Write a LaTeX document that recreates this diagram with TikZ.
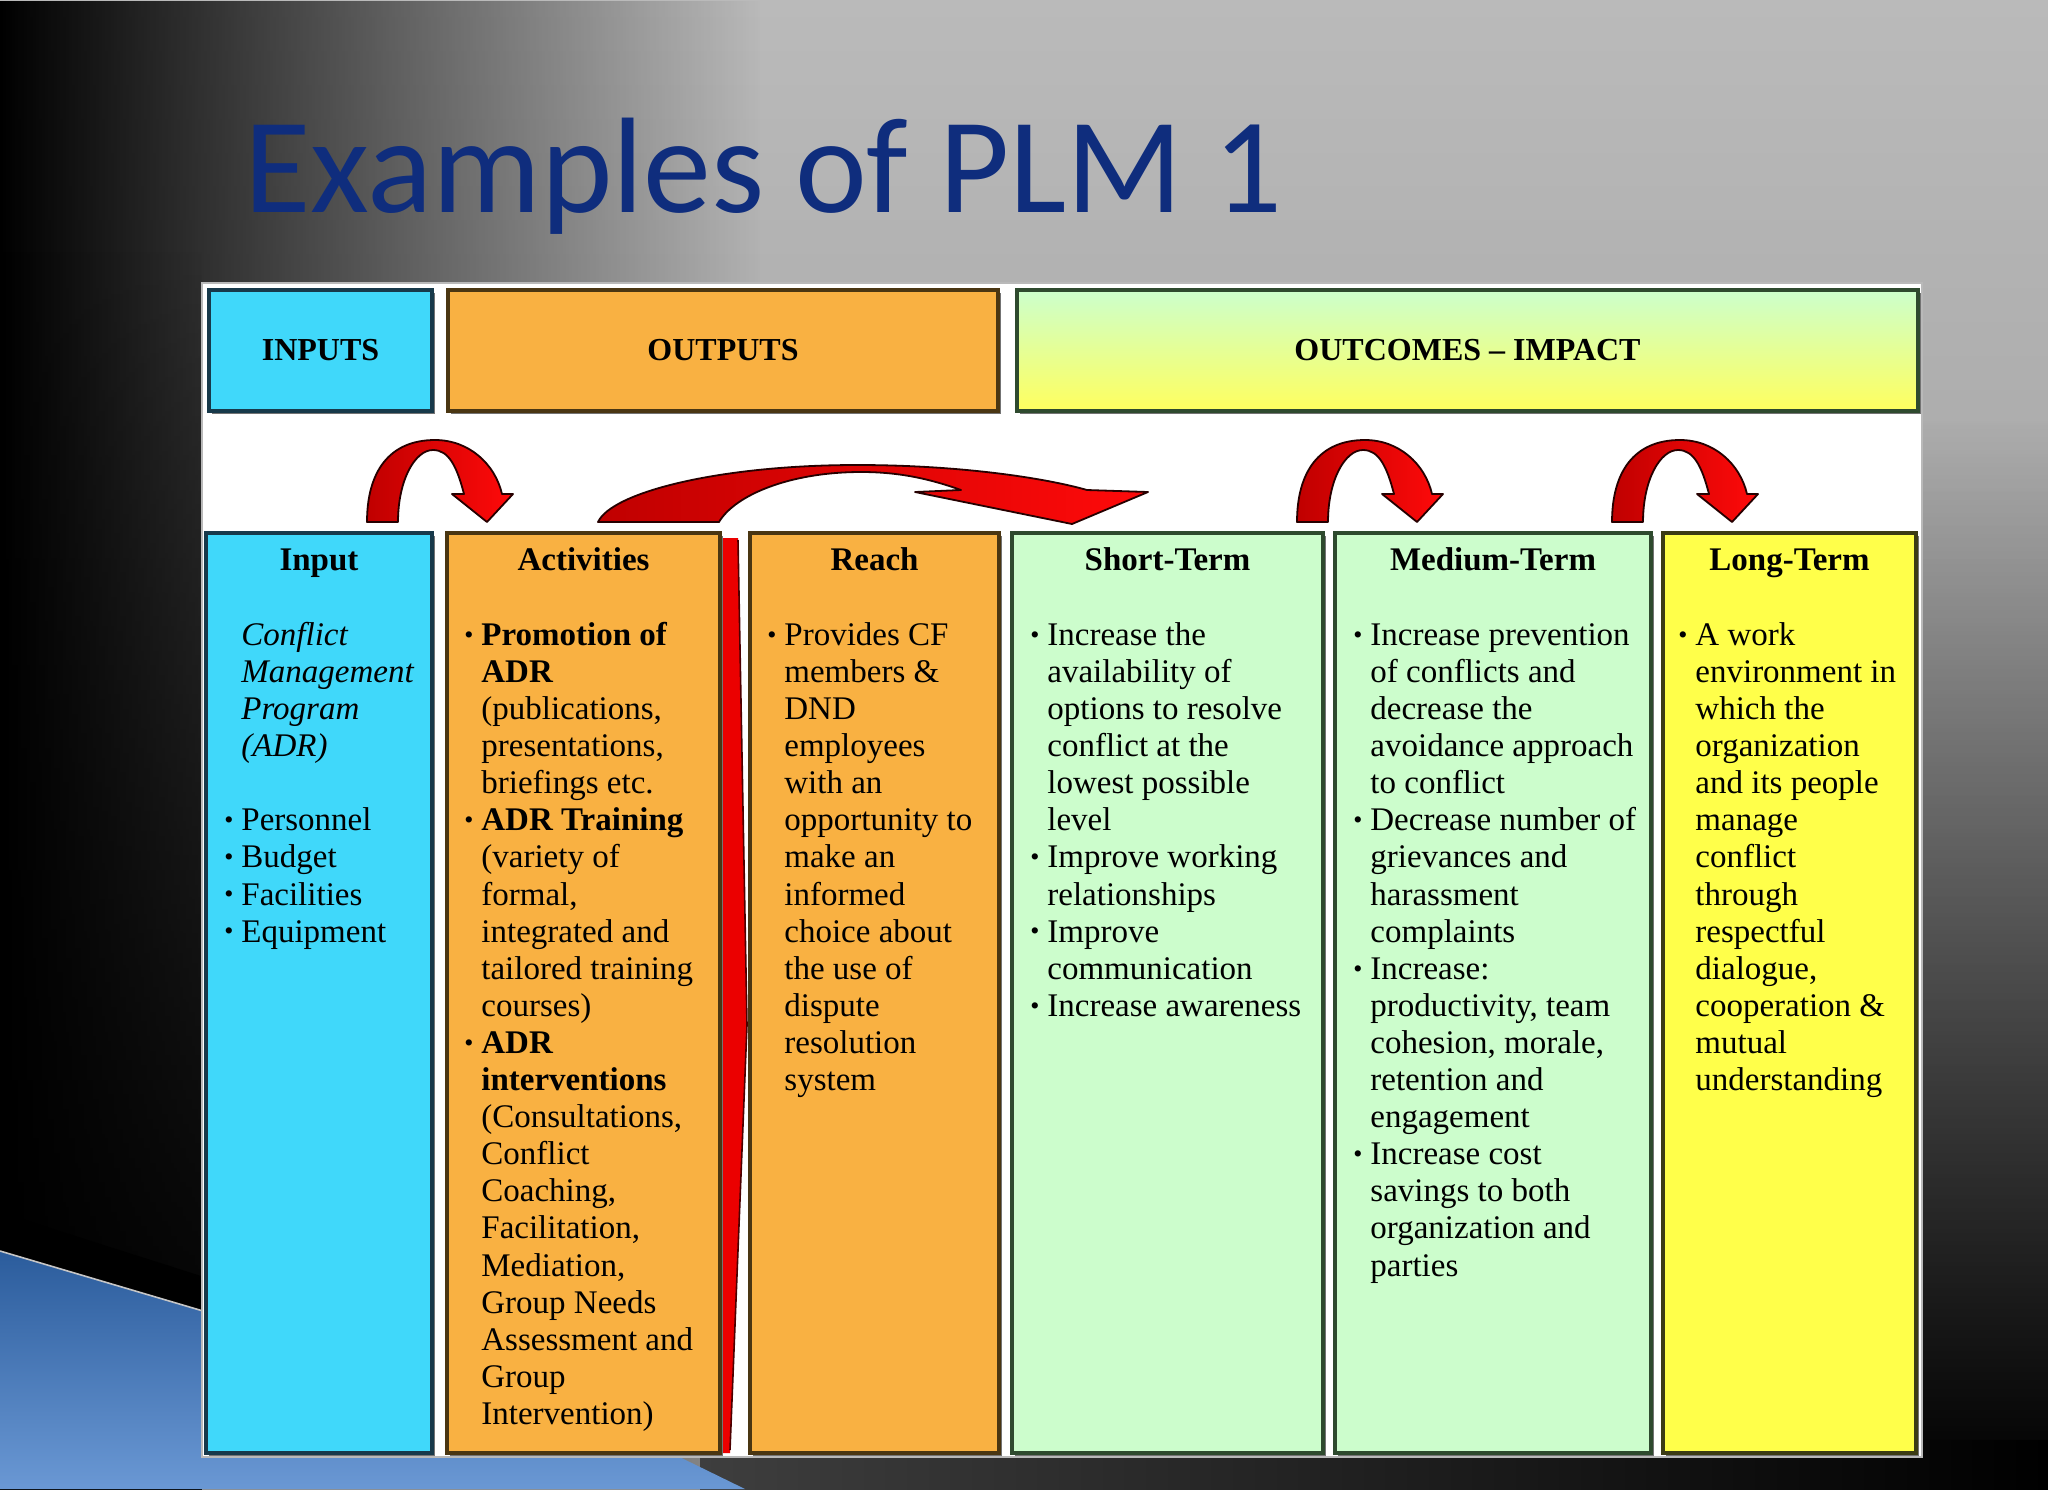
\documentclass[tikz,border=0pt]{standalone}
\usepackage{fontspec}
\setmainfont{Liberation Serif}
\newfontfamily\titlefont{Carlito}
\usetikzlibrary{fadings,fit,shadows}

\definecolor{bgtop}{HTML}{BABABA}
\definecolor{bgbot}{HTML}{8E8E8E}
\definecolor{titleblue}{HTML}{0F2D7D}
\definecolor{cyanbox}{HTML}{40D8FA}
\definecolor{cyanedge}{HTML}{17394A}
\definecolor{orangebox}{HTML}{F9B142}
\definecolor{orangeedge}{HTML}{4A3612}
\definecolor{greenbox}{HTML}{CCFDCC}
\definecolor{greenedge}{HTML}{2E4A2E}
\definecolor{yellowbox}{HTML}{FFFF4A}
\definecolor{yellowedge}{HTML}{3C3C14}
\definecolor{hdrgreen}{HTML}{CCFFCC}
\definecolor{hdryellow}{HTML}{FFFF5E}
\definecolor{arrowdark}{HTML}{C00000}
\definecolor{arrowred}{HTML}{FF0A0A}
\definecolor{blueA}{HTML}{2B5C9C}
\definecolor{blueB}{HTML}{6A98D4}
\definecolor{stripgray}{HTML}{3E3E3E}

\tikzfading[name=fadeleft, left color=transparent!0, right color=transparent!100]
\tikzfading[name=fadeup, top color=transparent!100, bottom color=transparent!0]

\newcommand{\bul}{\llap{\raisebox{0.15ex}{\fontsize{13}{13}\selectfont\textbullet}\hspace{4pt}}}

\begin{document}
\begin{tikzpicture}[x=0.5pt,y=-0.5pt,
  boxbase/.style={inner sep=0pt, line width=1.7pt},
  colbox/.style={boxbase, drop shadow={shadow xshift=1.5pt, shadow yshift=-1.5pt, opacity=0.55, fill=black}},
  hdrtext/.style={font=\fontsize{16}{18}\selectfont\bfseries, anchor=base, inner sep=0pt},
  coltitle/.style={font=\fontsize{16.5}{18.55}\selectfont\bfseries, anchor=base, inner sep=0pt},
  coltext/.style={font=\fontsize{16.5}{18.55}\selectfont, anchor=north west, align=left, inner sep=0pt},
  redarrow/.style={left color=arrowdark, right color=arrowred, draw=black!85!red, line width=0.9pt, line join=round},
  uarrow/.pic={
    \shadedraw[redarrow] (0,0) .. controls (0,-50) and (22,-82) .. (68,-82)
      .. controls (102,-82) and (128,-58) .. (135,-28) -- (146,-28) -- (120,0)
      -- (85,-28) -- (97,-28) .. controls (90,-55) and (82,-72) .. (66,-72)
      .. controls (48,-72) and (31,-42) .. (31,0) -- cycle;
  }
]
\useasboundingbox (0,0) rectangle (2048,1489);

% ---------- background ----------
\shade[top color=bgtop, bottom color=bgbot] (0,0) rectangle (2048,1489);
\fill[black, path fading=fadeleft] (0,0) rectangle (760,1489);
\fill[black, path fading=fadeup] (0,250) rectangle (202,1489);
\fill[black, path fading=fadeup] (1900,420) rectangle (2048,1489);
\shade[left color=stripgray, right color=black] (700,1440) rectangle (2048,1489);
\fill[black] (0,1212) -- (220,1282) -- (220,1322) -- (0,1256) -- cycle;
\shade[top color=blueA, bottom color=blueB] (0,1251) -- (655,1445) -- (745,1489) -- (0,1489) -- cycle;
\draw[gray!45, line width=0.8pt] (0,1251) -- (220,1316);

% ---------- title ----------
\node[font=\titlefont\fontsize{68}{70}\selectfont, text=titleblue, anchor=base west, inner sep=0pt] (title) at (244,212) {Examples of PLM 1};

% ---------- white panel ----------
\node[fit={(202,283) (1922,1457)}, inner sep=0pt, fill=white, draw=gray!55, line width=0.6pt] (panel) {};

% ---------- header boxes ----------
\node[colbox, fill=cyanbox, draw=cyanedge, fit={(209,290) (432,411)}] (hinputs) {};
\node[colbox, fill=orangebox, draw=orangeedge, fit={(448,290) (998,411)}] (houtputs) {};
\node[colbox, top color=hdrgreen, bottom color=hdryellow, draw=greenedge, fit={(1017,290) (1918,411)}] (houtcomes) {};

\node[hdrtext] (tinputs) at (320.5,360) {INPUTS};
\node[hdrtext] (toutputs) at (723,360) {OUTPUTS};
\node[hdrtext] (toutcomes) at (1467.5,360) {OUTCOMES – IMPACT};

% ---------- column boxes ----------
\node[colbox, fill=cyanbox, draw=cyanedge, fit={(206,533) (432,1453)}] (binput) {};
\node[colbox, fill=orangebox, draw=orangeedge, fit={(447,533) (720,1453)}] (bactivities) {};
\node[colbox, fill=orangebox, draw=orangeedge, fit={(750,533) (999,1453)}] (breach) {};
\node[colbox, fill=greenbox, draw=greenedge, fit={(1012,533) (1323,1453)}] (bshort) {};
\node[colbox, fill=greenbox, draw=greenedge, fit={(1335,533) (1651,1453)}] (bmedium) {};
\node[colbox, fill=yellowbox, draw=yellowedge, fit={(1663,533) (1916,1453)}] (blong) {};

% red strip between Activities and Reach
\fill[red!92!black] (723,538) -- (738,538) -- (747,1025) -- (730,1453) -- (723,1453) -- cycle;
\draw[black!70!red, line width=0.8pt] (738,540) -- (747,1025) -- (730,1450);

% ---------- arrows ----------
\pic at (367,522) {uarrow};
\pic at (1297,522) {uarrow};
\pic at (1612,522) {uarrow};
\shadedraw[redarrow] (598,522) .. controls (612,492) and (720,465) .. (857,465)
  .. controls (960,465) and (1045,478) .. (1087,490) -- (1148,492) -- (1072,524)
  -- (915,492) -- (961,490) .. controls (930,479) and (900,472) .. (861,472)
  .. controls (790,472) and (735,495) .. (719,522) -- cycle;

% ---------- column titles ----------
\node[coltitle] (tinput) at (319,570) {Input};
\node[coltitle] (tactivities) at (583.5,570) {Activities};
\node[coltitle] (treach) at (874.5,570) {Reach};
\node[coltitle] (tshort) at (1167.5,570) {Short-Term};
\node[coltitle] (tmedium) at (1493,570) {Medium-Term};
\node[coltitle] (tlong) at (1789.5,570) {Long-Term};

% ---------- column texts ----------
\node[coltext] (xinput) at (241,619) {\strut\textit{Conflict}\\ \textit{Management}\\ \textit{Program}\\ \textit{(ADR)}\\ \mbox{}\\
\bul Personnel\\ \bul Budget\\ \bul Facilities\\ \bul Equipment};

\node[coltext] (xactivities) at (481,619) {\strut\bul\textbf{Promotion of}\\ \textbf{ADR}\\ (publications,\\ presentations,\\ briefings etc.\\
\bul\textbf{ADR Training}\\ (variety of\\ formal,\\ integrated and\\ tailored training\\ courses)\\
\bul\textbf{ADR}\\ \textbf{interventions}\\ (Consultations,\\ Conflict\\ Coaching,\\ Facilitation,\\ Mediation,\\ Group Needs\\ Assessment and\\ Group\\ Intervention)};

\node[coltext] (xreach) at (784,619) {\strut\bul Provides CF\\ members \&\\ DND\\ employees\\ with an\\ opportunity to\\ make an\\ informed\\ choice about\\ the use of\\ dispute\\ resolution\\ system};

\node[coltext] (xshort) at (1047,619) {\strut\bul Increase the\\ availability of\\ options to resolve\\ conflict at the\\ lowest possible\\ level\\
\bul Improve working\\ relationships\\ \bul Improve\\ communication\\ \bul Increase awareness};

\node[coltext] (xmedium) at (1370,619) {\strut\bul Increase prevention\\ of conflicts and\\ decrease the\\ avoidance approach\\ to conflict\\
\bul Decrease number of\\ grievances and\\ harassment\\ complaints\\
\bul Increase:\\ productivity, team\\ cohesion, morale,\\ retention and\\ engagement\\
\bul Increase cost\\ savings to both\\ organization and\\ parties};

\node[coltext] (xlong) at (1695,619) {\strut\bul A work\\ environment in\\ which the\\ organization\\ and its people\\ manage\\ conflict\\ through\\ respectful\\ dialogue,\\ cooperation \&\\ mutual\\ understanding};

\end{tikzpicture}
\end{document}
